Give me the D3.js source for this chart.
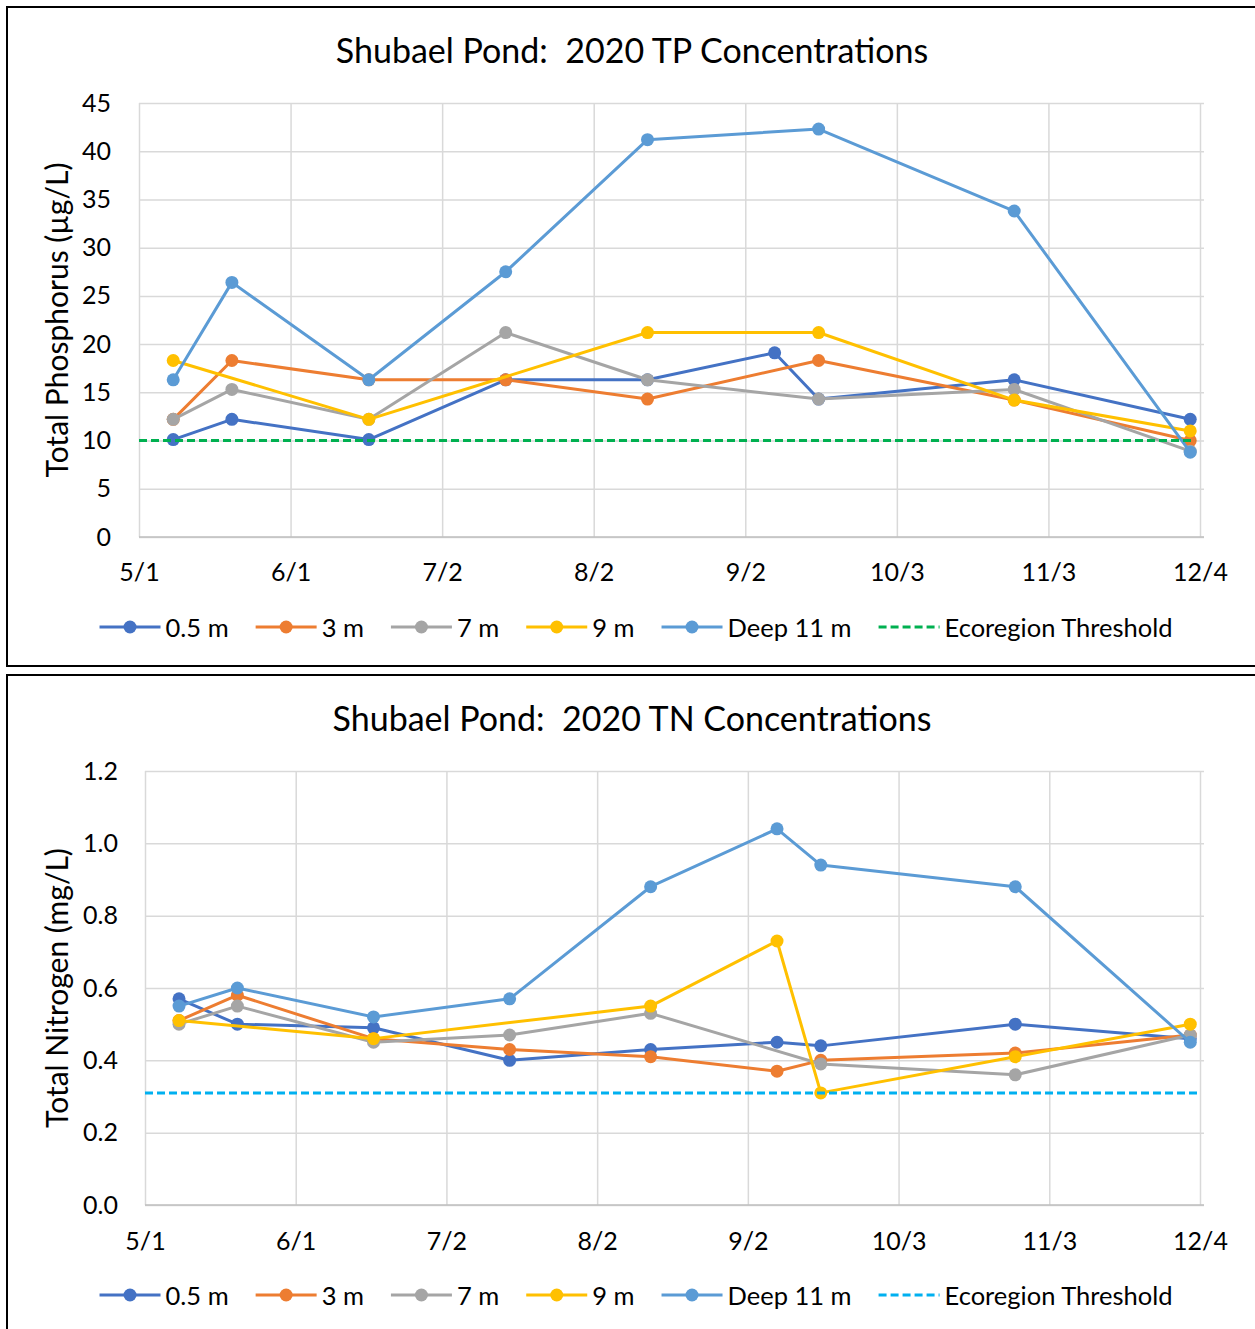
<!DOCTYPE html>
<html><head><meta charset="utf-8">
<script src="https://cdn.jsdelivr.net/npm/d3@7"></script>
<style>
html,body{margin:0;padding:0;background:#fff;}
svg{display:block;}
text{font-family:Lato,"Open Sans",sans-serif;fill:#000;white-space:pre;}
</style></head>
<body>
<svg id="chart" width="1255" height="1329"></svg>
<script>
// ---------- DATA ----------
const sampleDates = ["2020-05-08","2020-05-20","2020-06-17","2020-07-15","2020-08-13","2020-09-08","2020-09-17","2020-10-27","2020-12-02"];
const xTickLabels = ["5/1","6/1","7/2","8/2","9/2","10/3","11/3","12/4"];
const seriesNames = ["0.5 m","3 m","7 m","9 m","Deep 11 m"];
const seriesColors = ["#4472C4","#ED7D31","#A5A5A5","#FFC000","#5B9BD5"];

// Total Phosphorus (µg/L)
const tp_05m  = [10.1, 12.2, 10.1, 16.3, 16.3, 19.1, 14.3, 16.3, 12.2];
const tp_3m   = [12.2, 18.3, 16.3, 16.3, 14.3, null, 18.3, 14.2, 10.0];
const tp_7m   = [12.2, 15.3, 12.2, 21.2, 16.3, null, 14.3, 15.3, 8.9];
const tp_9m   = [18.3, null, 12.2, null, 21.2, null, 21.2, 14.2, 11.0];
const tp_deep = [16.3, 26.4, 16.3, 27.5, 41.2, null, 42.3, 33.8, 8.8];
const tpThreshold = 10;
const tpThresholdDates = ["2020-05-01","2020-12-03"];
const tpYTicks = [0,5,10,15,20,25,30,35,40,45];

// Total Nitrogen (mg/L)
const tn_05m  = [0.57, 0.50, 0.49, 0.40, 0.43, 0.45, 0.44, 0.50, 0.46];
const tn_3m   = [0.51, 0.58, 0.46, 0.43, 0.41, 0.37, 0.40, 0.42, 0.47];
const tn_7m   = [0.50, 0.55, 0.45, 0.47, 0.53, null, 0.39, 0.36, 0.47];
const tn_9m   = [0.51, null, 0.46, null, 0.55, 0.73, 0.31, 0.41, 0.50];
const tn_deep = [0.55, 0.60, 0.52, 0.57, 0.88, 1.04, 0.94, 0.88, 0.45];
const tnThreshold = 0.31;
const tnThresholdDates = ["2020-05-01","2020-12-04"];
const tnYTicks = [0,0.2,0.4,0.6,0.8,1.0,1.2];

// ---------- DRAW ----------
const svg = d3.select("#chart");
const parseDate = d3.timeParse("%Y-%m-%d");
const parseTick = s => d3.timeParse("%m/%d/%Y")(s + "/2020");
const dates = sampleDates.map(parseDate);
const tickDates = xTickLabels.map(parseTick);

function drawPanel(cfg){
  const g = svg.append("g");
  g.append("path")
    .attr("d", cfg.framePath)
    .attr("fill","none").attr("stroke","#000").attr("stroke-width",2);

  const x = d3.scaleTime().domain([tickDates[0], tickDates[tickDates.length-1]]).range([cfg.left, cfg.right]);
  const y = d3.scaleLinear().domain([0, cfg.yMax]).range([cfg.bottom, cfg.top]);

  g.append("g").attr("transform",`translate(${cfg.left},0)`)
    .call(d3.axisLeft(y).tickValues(cfg.yTicks).tickSize(-(cfg.right - cfg.left + 4)).tickFormat(""))
    .call(s=>s.select(".domain").remove())
    .call(s=>s.selectAll("line").attr("stroke","#D9D9D9").attr("stroke-width",1.5));
  g.append("g").attr("transform",`translate(0,${cfg.bottom})`)
    .call(d3.axisBottom(x).tickValues(tickDates).tickSize(-(cfg.bottom - cfg.top)).tickFormat(""))
    .call(s=>s.select(".domain").remove())
    .call(s=>s.selectAll("line").attr("stroke","#D9D9D9").attr("stroke-width",1.5));
  g.append("line").attr("x1",cfg.left).attr("x2",cfg.right+4).attr("y1",y(0)).attr("y2",y(0))
    .attr("stroke","#BFBFBF").attr("stroke-width",1.5);

  g.append("g").attr("transform",`translate(${cfg.yLabelX},0)`)
    .call(d3.axisLeft(y).tickValues(cfg.yTicks).tickSize(0).tickPadding(0).tickFormat(cfg.yFormat))
    .call(s=>s.select(".domain").remove())
    .call(s=>s.selectAll("text").attr("font-size",25).attr("fill","#000").attr("font-family","Lato"));
  g.append("g").attr("transform",`translate(0,${cfg.xLabelY})`)
    .call(d3.axisBottom(x).tickValues(tickDates).tickSize(0).tickPadding(0).tickFormat((d,i)=>xTickLabels[i]))
    .call(s=>s.select(".domain").remove())
    .call(s=>s.selectAll("text").attr("font-size",25).attr("fill","#000").attr("font-family","Lato").attr("dy","0.35em"));

  g.append("text").attr("x",cfg.titleX).attr("y",cfg.titleY).attr("text-anchor","middle")
    .attr("dominant-baseline","central").attr("font-size",34).text(cfg.title);
  g.append("text").attr("transform",`translate(${cfg.yTitleX},${(cfg.top+cfg.bottom)/2}) rotate(-90)`)
    .attr("text-anchor","middle").attr("dominant-baseline","central").attr("font-size",30).text(cfg.yTitle);

  const line = d3.line().x(d=>x(d.date)).y(d=>y(d.v));
  cfg.series.forEach((vals,i)=>{
    const pts = vals.map((v,j)=>({date:dates[j], v})).filter(d=>d.v!==null);
    g.append("path").datum(pts).attr("d",line).attr("fill","none")
      .attr("stroke",seriesColors[i]).attr("stroke-width",3).attr("stroke-linejoin","round");
    g.selectAll(null).data(pts).join("circle")
      .attr("cx",d=>x(d.date)).attr("cy",d=>y(d.v)).attr("r",6.5).attr("fill",seriesColors[i]);
  });
  const th = cfg.thresholdDates.map(s=>({date:parseDate(s), v:cfg.threshold}));
  g.append("path").datum(th).attr("d",line).attr("fill","none")
    .attr("stroke",cfg.thColor).attr("stroke-width",3).attr("stroke-dasharray","8,4");

  const lg = g.append("g");
  const items = seriesNames.map((n,i)=>({name:n,color:seriesColors[i],dash:false}))
    .concat([{name:"Ecoregion Threshold",color:cfg.thColor,dash:true}]);
  let cx = 0;
  items.forEach(it=>{
    const ig = lg.append("g").attr("transform",`translate(${cx},0)`);
    ig.append("line").attr("x1",0).attr("x2",61).attr("y1",0).attr("y2",0)
      .attr("stroke",it.color).attr("stroke-width",3).attr("stroke-dasharray",it.dash?"8,4":null);
    if(!it.dash) ig.append("circle").attr("cx",30.5).attr("cy",0).attr("r",6.5).attr("fill",it.color);
    const t = ig.append("text").attr("x",66).attr("y",0).attr("dominant-baseline","central")
      .attr("font-size",25.5).text(it.name);
    const w = t.node().getComputedTextLength();
    cx += 66 + w + 27;
  });
  const total = cx - 27;
  lg.attr("transform",`translate(${cfg.legendCX - total/2},${cfg.legendY})`);
}

drawPanel({
  framePath:"M1262,7 L7,7 L7,666 L1262,666",
  left:139, right:1200, top:103, bottom:537, yMax:45, yTicks:tpYTicks,
  yFormat:d3.format("d"), yLabelX:111, xLabelY:572,
  title:"Shubael Pond:  2020 TP Concentrations", titleX:632, titleY:49,
  yTitle:"Total Phosphorus (µg/L)", yTitleX:56,
  series:[tp_05m,tp_3m,tp_7m,tp_9m,tp_deep],
  threshold:tpThreshold, thresholdDates:tpThresholdDates, thColor:"#00B050",
  legendCX:636, legendY:627
});
drawPanel({
  framePath:"M1262,675 L7,675 L7,1340",
  left:145, right:1200, top:771, bottom:1205, yMax:1.2, yTicks:tnYTicks,
  yFormat:d3.format(".1f"), yLabelX:118, xLabelY:1241,
  title:"Shubael Pond:  2020 TN Concentrations", titleX:632, titleY:717,
  yTitle:"Total Nitrogen (mg/L)", yTitleX:56,
  series:[tn_05m,tn_3m,tn_7m,tn_9m,tn_deep],
  threshold:tnThreshold, thresholdDates:tnThresholdDates, thColor:"#00B0F0",
  legendCX:636, legendY:1295
});
</script>
</body></html>
